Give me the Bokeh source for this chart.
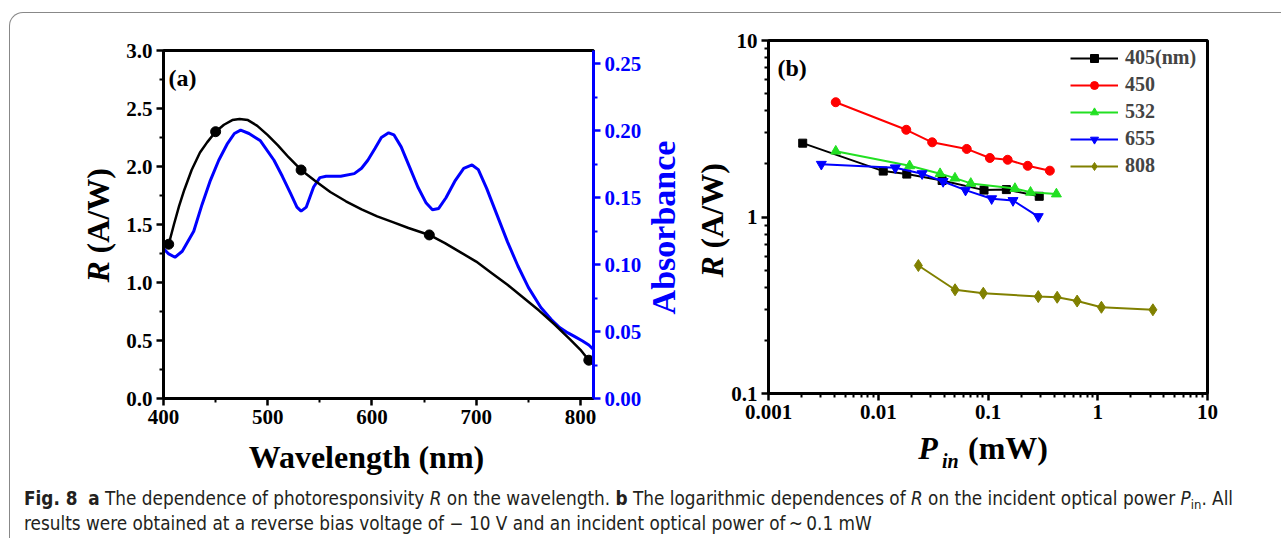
from bokeh.plotting import figure
from bokeh.models import (LinearAxis, Range1d, FixedTicker, Label, Legend, LegendItem,
                          CustomJSTickFormatter, PrintfTickFormatter, Div, Spacer)
from bokeh.layouts import row, column
from bokeh.embed import file_html
from bokeh.resources import INLINE
import math

SERIF = "Liberation Serif"

# ---------------- Panel (a) data ----------------
wl_points = [405, 450, 532, 655, 808]
r_points = [1.33, 2.30, 1.97, 1.41, 0.33]

wl_fit = [405, 410, 415, 420, 427, 435, 442, 450, 458, 466, 473, 481, 490, 500, 510, 520,
          532, 545, 560, 575, 590, 605, 620, 635, 655, 670, 685, 700, 715, 730, 745, 760,
          775, 790, 800, 808]
r_fit = [1.33, 1.50, 1.66, 1.80, 1.97, 2.12, 2.21, 2.30, 2.36, 2.40, 2.41, 2.40, 2.35, 2.27,
         2.18, 2.08, 1.97, 1.88, 1.78, 1.70, 1.63, 1.57, 1.52, 1.47, 1.41, 1.34, 1.26, 1.18,
         1.08, 0.98, 0.87, 0.76, 0.64, 0.51, 0.42, 0.33]

wl_abs = [400, 405, 411, 418, 429, 437, 445, 453, 461, 468, 474, 482, 493, 506, 514, 522,
          528, 532, 537, 544, 550, 556, 570, 583, 590, 596, 603, 609, 616, 621, 628, 636,
          644, 652, 658, 664, 671, 680, 688, 696, 702, 710, 720, 730, 740, 750, 762, 772,
          780, 788, 795, 802, 808, 812]
absorb = [0.112, 0.108, 0.1055, 0.110, 0.125, 0.145, 0.163, 0.178, 0.190, 0.198, 0.2005,
          0.198, 0.1925, 0.178, 0.166, 0.153, 0.143, 0.140, 0.143, 0.158, 0.165, 0.166,
          0.166, 0.168, 0.172, 0.178, 0.187, 0.195, 0.1985, 0.197, 0.188, 0.173, 0.158,
          0.146, 0.141, 0.142, 0.150, 0.163, 0.172, 0.1745, 0.171, 0.157, 0.137, 0.117,
          0.099, 0.083, 0.068, 0.059, 0.053, 0.049, 0.046, 0.043, 0.040, 0.037]

a_xticks = [400, 500, 600, 700, 800]
a_xminor = [450, 550, 650, 750]
a_yticks = [0.0, 0.5, 1.0, 1.5, 2.0, 2.5, 3.0]
a_yminor = [0.25, 0.75, 1.25, 1.75, 2.25, 2.75]
abs_ticks = [0.0, 0.05, 0.10, 0.15, 0.20, 0.25]
abs_minor = [0.025, 0.075, 0.125, 0.175, 0.225]

# ---------------- Panel (b) data ----------------
p405 = [0.00205, 0.0111, 0.0182, 0.0382, 0.092, 0.147, 0.293]
r405 = [2.62, 1.82, 1.75, 1.61, 1.42, 1.43, 1.31]
p450 = [0.0041, 0.018, 0.031, 0.064, 0.104, 0.151, 0.23, 0.366]
r450 = [4.47, 3.12, 2.65, 2.43, 2.16, 2.11, 1.95, 1.83]
p532 = [0.0041, 0.0193, 0.0366, 0.050, 0.0697, 0.176, 0.244, 0.42]
r532 = [2.36, 1.95, 1.76, 1.66, 1.55, 1.45, 1.38, 1.35]
p655 = [0.00303, 0.0143, 0.0251, 0.039, 0.0624, 0.108, 0.169, 0.287]
r655 = [1.99, 1.90, 1.76, 1.59, 1.42, 1.27, 1.24, 1.006]
p808 = [0.0232, 0.0501, 0.0906, 0.287, 0.427, 0.649, 1.08, 3.18]
r808 = [0.531, 0.387, 0.370, 0.354, 0.351, 0.334, 0.308, 0.298]
b_xticks = [0.001, 0.01, 0.1, 1, 10]
b_yticks = [0.1, 1, 10]
series_labels = ["405(nm)", "450", "532", "655", "808"]
series_colors = ["black", "#ff0000", "#22e022", "#0000ff", "#808000"]


def style_axis(ax, color="black"):
    ax.axis_line_width = 3
    ax.axis_line_color = color
    ax.major_tick_line_width = 2.5
    ax.minor_tick_line_width = 2
    ax.major_tick_line_color = color
    ax.minor_tick_line_color = color
    ax.major_tick_out = 7
    ax.major_tick_in = 0
    ax.minor_tick_out = 4
    ax.minor_tick_in = 0
    ax.major_label_text_font = SERIF
    ax.major_label_text_font_style = "bold"
    ax.major_label_text_font_size = "21px"
    ax.major_label_text_color = color
    ax.major_label_standoff = 4


def lab(fig, side, text, x, y, size, style="bold", color="black", align="left",
        angle=0.0, units="data"):
    fig.add_layout(Label(x=x, y=y, x_units=units, y_units=units, text=text,
                         text_font=SERIF, text_font_style=style, text_font_size=f"{size}px",
                         text_color=color, text_align=align, text_baseline="middle",
                         angle=angle), side)


# ---------------- Figure (a) ----------------
fa = figure(width=672, height=460, x_range=Range1d(400, 812.5), y_range=Range1d(0, 3.0),
            output_backend="svg", toolbar_location=None,
            min_border_left=153, min_border_right=89, min_border_top=27, min_border_bottom=85)
fa.xgrid.visible = False
fa.ygrid.visible = False
fa.outline_line_color = "black"
fa.outline_line_width = 3
fa.extra_y_ranges = {"abs": Range1d(0, 0.26)}

fa.xaxis.ticker = FixedTicker(ticks=a_xticks, minor_ticks=a_xminor)
fa.xaxis.formatter = PrintfTickFormatter(format="%d")
fa.yaxis.ticker = FixedTicker(ticks=a_yticks, minor_ticks=a_yminor)
fa.yaxis.formatter = PrintfTickFormatter(format="%.1f")
style_axis(fa.xaxis[0])
style_axis(fa.yaxis[0])

ra = LinearAxis(y_range_name="abs", ticker=FixedTicker(ticks=abs_ticks, minor_ticks=abs_minor),
                formatter=PrintfTickFormatter(format="%.2f"))
style_axis(ra, "#0000ff")
fa.add_layout(ra, "right")

fa.line(wl_abs, absorb, y_range_name="abs", line_color="#0000ff", line_width=3)
fa.line(wl_fit, r_fit, line_color="black", line_width=2.5)
fa.scatter(wl_points, r_points, marker="circle", size=10, color="black")

lab(fa, "center", "(a)", 5, 321, 24, units="screen")
lab(fa, "below", "Wavelength (nm)", 594.7, -0.50, 32, align="center")
lab(fa, "right", "R", 337.6, 1.00, 32, style="bold italic", angle=math.pi / 2)
lab(fa, "left", "(A/W)", 337.6, 1.25, 32, angle=math.pi / 2)
lab(fa, "left", "Absorbance", 879.7, 1.474, 34, color="#0000ff", align="center",
    angle=math.pi / 2)

# ---------------- Figure (b) ----------------
fb = figure(width=598, height=465, x_axis_type="log", y_axis_type="log",
            x_range=Range1d(0.001, 10), y_range=Range1d(0.1, 10),
            output_backend="svg", toolbar_location=None,
            min_border_left=86, min_border_right=73, min_border_top=27, min_border_bottom=85)
fb.xgrid.visible = False
fb.ygrid.visible = False
fb.outline_line_color = "black"
fb.outline_line_width = 3

x_minor = [k * t for t in b_xticks[:-1] for k in range(2, 10)]
y_minor = [k * t for t in b_yticks[:-1] for k in range(2, 10)]
fb.xaxis.ticker = FixedTicker(ticks=b_xticks, minor_ticks=x_minor)
fb.yaxis.ticker = FixedTicker(ticks=b_yticks, minor_ticks=y_minor)
fmt = CustomJSTickFormatter(code="return tick.toString();")
fb.xaxis.formatter = fmt
fb.yaxis.formatter = fmt
style_axis(fb.xaxis[0])
style_axis(fb.yaxis[0])

xs = [p405, p450, p532, p655, p808]
ys = [r405, r450, r532, r655, r808]
markers = ["square", "circle", "triangle", "inverted_triangle", "diamond"]
msizes = [8, 9, 10, 10, 12]
items = []
for xv, yv, mk, ms, col, lb in zip(xs, ys, markers, msizes, series_colors, series_labels):
    l = fb.line(xv, yv, line_color=col, line_width=2)
    s = fb.scatter(xv, yv, marker=mk, size=ms, color=col)
    items.append(LegendItem(label=lb, renderers=[l, s]))

leg = Legend(items=items, location=(302, 216), border_line_color=None,
             background_fill_alpha=0, label_text_font=SERIF, label_text_font_style="bold",
             label_text_font_size="20px", glyph_width=48, glyph_height=20, label_height=20,
             label_standoff=7, spacing=4, padding=0, margin=0)
fb.add_layout(leg, "center")

lab(fb, "center", "(b)", 9, 326, 24, units="screen")
lab(fb, "right", "R", 3.03e-4, 0.454, 32, style="bold italic", angle=math.pi / 2)
lab(fb, "left", "(A/W)", 3.03e-4, 0.663, 32, angle=math.pi / 2)
lab(fb, "right", "P", 0.0231, 0.0494, 32, style="bold italic")
lab(fb, "above", "in", 0.0380, 0.0414, 20, style="bold italic")
lab(fb, "below", "(mW)", 0.0658, 0.0494, 32)

caption_html = (
    '<div style="font-family:\'Liberation Sans Narrow\',\'DejaVu Sans Condensed\',\'Open Sans\',sans-serif;'
    'font-size:18.8px;line-height:25px;color:#231f20;margin-top:-2px;'
    'padding:0 0 0 9px;white-space:nowrap;">'
    '<b>Fig. 8</b>&nbsp; <b>a</b> The dependence of photoresponsivity <i>R</i> on the wavelength. '
    '<b>b</b> The logarithmic dependences of <i>R</i> on the incident optical power '
    '<i>P</i><span style="font-size:13px;position:relative;top:4px;line-height:0">in</span>. All<br>'
    'results were obtained at a reverse bias voltage of \u2212 10\u00a0V and an incident optical '
    'power of\u2009~\u20090.1 mW</div>'
)
cap = Div(text=caption_html, width=1262, height=52)

layout = column(row(column(Spacer(height=10), fa), fb), cap,
                styles={"border-top": "1px solid #888", "border-left": "1px solid #888",
                        "border-top-left-radius": "14px", "margin-left": "9px",
                        "margin-top": "12px"})

open("out.html", "w").write(file_html(layout, INLINE))
